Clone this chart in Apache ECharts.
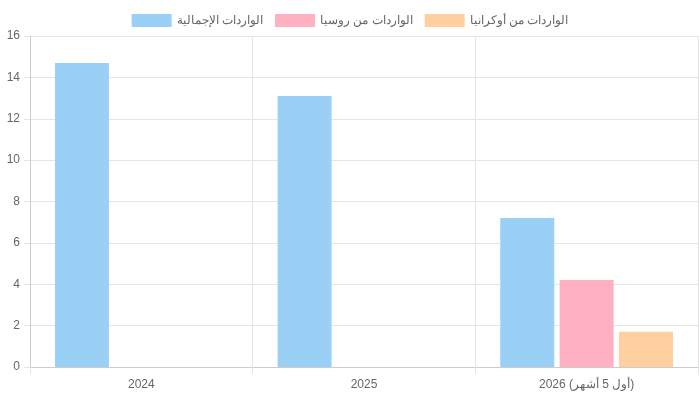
<!DOCTYPE html>
<html><head><meta charset="utf-8">
<script src="https://cdn.jsdelivr.net/npm/echarts@6/dist/echarts.min.js"></script>
<style>html,body{margin:0;padding:0;background:#fff}#c{width:700px;height:400px}</style>
</head><body><div id="c"></div>
<script>
const categories = ['2024', '2025', '2026 (أول 5 أشهر)'];
const seriesNames = ['الواردات الإجمالية', 'الواردات من روسيا', 'الواردات من أوكرانيا'];
const totalImports = [14.7, 13.1, 7.2];
const russiaImports = [null, null, 4.2];
const ukraineImports = [null, null, 1.7];
const colors = ['#9ad0f5', '#ffb1c1', '#ffcf9f'];
const font = 'Liberation Sans, Arial, sans-serif';
const chart = echarts.init(document.getElementById('c'));
const mk = (i, d) => ({name: seriesNames[i], type: 'bar', data: d, barWidth: 54, barGap: '10%',
  itemStyle: {color: colors[i]}});
chart.setOption({
  animation: false,
  textStyle: {fontFamily: font},
  legend: {top: 9, left: 'center', itemWidth: 40, itemHeight: 13, itemGap: 12,
    textStyle: {color: '#666', fontSize: 12, fontFamily: font}, icon: 'rect'},
  grid: {left: 30, right: 2, top: 36, bottom: 33},
  xAxis: {type: 'category', data: categories,
    axisLine: {lineStyle: {color: '#ccc'}},
    axisTick: {show: true, length: 7, lineStyle: {color: '#e5e5e5'}},
    splitLine: {show: true, lineStyle: {color: '#e5e5e5'}},
    axisLabel: {color: '#666', fontSize: 12, margin: 12}},
  yAxis: {type: 'value', min: 0, max: 16, interval: 2,
    axisLine: {show: true, lineStyle: {color: '#ccc'}},
    axisTick: {show: true, length: 6, lineStyle: {color: '#e5e5e5'}},
    splitLine: {lineStyle: {color: '#e5e5e5'}},
    axisLabel: {color: '#666', fontSize: 12, margin: 10}},
  series: [mk(0, totalImports), mk(1, russiaImports), mk(2, ukraineImports)]
});
</script></body></html>
